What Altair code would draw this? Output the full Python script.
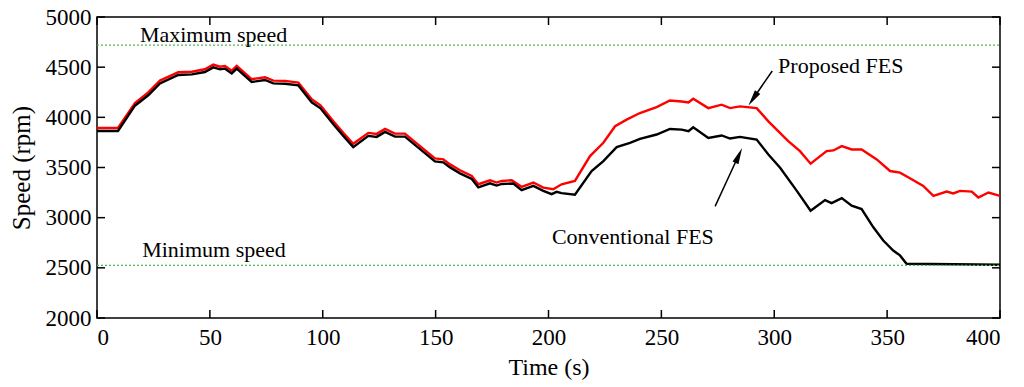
import altair as alt
import pandas as pd

# ---- data ----
prop_t = [0, 9.3, 16.8, 22.7, 27.9, 36, 42, 47.8, 51.5, 54.5, 56.7, 59.7, 61.9, 68.5, 74.4, 78.1,
          83.3, 89.2, 95.1, 99, 104.7, 109.1, 113.5, 120.2, 123.9, 127.6, 132, 136.4, 143.1, 149.7,
          153.4, 156.4, 160.8, 166, 168.9, 174.1, 177, 179.3, 183.7, 188.1, 193.3, 197.7, 202.1,
          205.8, 211.7, 218.4, 224.3, 229.5, 234.6, 240.5, 247.9, 253.8, 259, 262, 264.1, 270.8,
          276.7, 280.4, 284.8, 292.2, 297.4, 306.2, 311.4, 316.1, 323.2, 326.2, 329.9, 334.3,
          338.7, 345.4, 351.3, 355.7, 360.1, 366, 370.5, 376.4, 379.3, 382.3, 387.5, 390.4, 394.9, 400]
prop_rpm = [3894, 3894, 4142, 4248, 4366, 4449, 4455, 4479, 4525, 4505, 4512, 4465, 4512, 4380, 4400, 4366,
            4363, 4346, 4181, 4120, 3960, 3845, 3736, 3845, 3835, 3884, 3838, 3838, 3713, 3591,
            3581, 3531, 3472, 3416, 3333, 3373, 3350, 3366, 3373, 3307, 3350, 3300, 3284,
            3333, 3366, 3614, 3746, 3911, 3977, 4043, 4102, 4168, 4158, 4148, 4185, 4092,
            4126, 4092, 4109, 4092, 3960, 3762, 3663, 3538, 3663, 3670, 3713, 3680,
            3680, 3581, 3465, 3449, 3393, 3317, 3218, 3260, 3241, 3267, 3260, 3201, 3251, 3218]

conv_t = [0, 9.3, 16.8, 22.7, 27.9, 36, 42, 47.8, 51.5, 54.5, 56.7, 59.7, 61.9, 68.5, 74.4, 78.1,
          83.3, 89.2, 95.1, 99, 104.7, 109.1, 113.5, 120.2, 123.9, 127.6, 132, 136.4, 143.1, 149.7,
          153.4, 156.4, 160.8, 166, 168.9, 174.1, 177, 179.3, 184.4, 188.1, 193.3, 197.7, 201.4,
          203.6, 205.8, 211.7, 219.1, 224.3, 230.2, 236.1, 240.5, 247.9, 253.8, 259, 262, 264.1,
          270.8, 276.7, 280.4, 284.8, 292.2, 297.4, 302.6, 310, 316.1, 322.5, 325.4, 329.9, 334.3,
          338.7, 343.9, 348.3, 352.7, 355.7, 358.6, 400]
conv_rpm = [3864, 3864, 4116, 4220, 4338, 4422, 4428, 4452, 4498, 4478, 4485, 4438, 4485, 4352, 4372, 4338,
            4335, 4318, 4150, 4090, 3930, 3815, 3703, 3815, 3805, 3855, 3808, 3808, 3683, 3561,
            3551, 3501, 3442, 3386, 3303, 3343, 3320, 3336, 3340, 3274, 3317, 3267, 3234,
            3257, 3244, 3228, 3465, 3564, 3703, 3746, 3785, 3829, 3884, 3878, 3861, 3901,
            3795, 3819, 3789, 3805, 3779, 3630, 3498, 3267, 3069, 3175, 3145, 3195, 3119,
            3086, 2904, 2772, 2673, 2624, 2540, 2530]

limit_names = ["Maximum speed", "Minimum speed"]
limit_rpm = [4720, 2525]

x_ticks = [0, 50, 100, 150, 200, 250, 300, 350, 400]
y_ticks = [2000, 2500, 3000, 3500, 4000, 4500, 5000]

# annotation text positions (data space)
note_text = ["Maximum speed", "Minimum speed", "Proposed FES", "Conventional FES"]
note_t = [19, 20, 301.7, 201.5]
note_rpm = [4822, 2673, 4515, 2812]

# arrows: start -> tip (data space), head angle
arrow_t1 = [299.1, 273.8]
arrow_r1 = [4462, 3112]
arrow_t2 = [290.0, 284.6]
arrow_r2 = [4165, 3640]
head_t = [290.6, 284.3]
head_r = [4185, 3620]
head_angle = [214.5, 24.3]

FONT = "Liberation Serif"
W, H = 903, 301

df_lines = pd.concat([
    pd.DataFrame({"t": prop_t, "rpm": prop_rpm, "series": "Proposed FES", "order": 0}),
    pd.DataFrame({"t": conv_t, "rpm": conv_rpm, "series": "Conventional FES", "order": 1}),
])
df_lim = pd.DataFrame({"name": limit_names, "rpm": limit_rpm})
df_xt = pd.DataFrame({"t": x_ticks})
df_yt = pd.DataFrame({"rpm": y_ticks})
df_notes = pd.DataFrame({"text": note_text, "t": note_t, "rpm": note_rpm})
df_arrow = pd.DataFrame({"t1": arrow_t1, "r1": arrow_r1, "t2": arrow_t2, "r2": arrow_r2,
                         "ht": head_t, "hr": head_r, "ang": head_angle})

xs = alt.Scale(domain=[0, 400], nice=False, zero=False)
ys = alt.Scale(domain=[2000, 5000], nice=False, zero=False)

x_axis = alt.Axis(values=x_ticks, format="d", ticks=False, domain=False, grid=False,
                  labelFont=FONT, labelFontSize=23, labelColor="black", labelPadding=8,
                  title="Time (s)", titleFont=FONT, titleFontSize=24, titleFontWeight="normal",
                  titleColor="black", titlePadding=6)
y_axis = alt.Axis(values=y_ticks, format="d", ticks=False, domain=False, grid=False,
                  labelFont=FONT, labelFontSize=23, labelColor="black", labelPadding=6,
                  title="Speed (rpm)", titleFont=FONT, titleFontSize=25, titleFontWeight="normal",
                  titleColor="black", titlePadding=11)


def X(field):
    return alt.X(field, type="quantitative", scale=xs, axis=x_axis, title="Time (s)")


def Y(field):
    return alt.Y(field, type="quantitative", scale=ys, axis=y_axis, title="Speed (rpm)")


lines = alt.Chart(df_lines).mark_line(strokeWidth=2.4).encode(
    x=X("t"), y=Y("rpm"),
    color=alt.Color("series:N", scale=alt.Scale(domain=["Proposed FES", "Conventional FES"],
                                               range=["#ff0000", "#000000"]), legend=None),
    detail="order:O",
)

limits = alt.Chart(df_lim).mark_rule(color="#4cbb4c", strokeWidth=1.2, strokeDash=[2, 2]).encode(
    y=Y("rpm"), x=alt.value(0), x2=alt.value(W),
)

tick_left = alt.Chart(df_yt).mark_rule(color="black", strokeWidth=1.5).encode(
    y=Y("rpm"), x=alt.value(0), x2=alt.value(8))
tick_right = alt.Chart(df_yt).mark_rule(color="black", strokeWidth=1.5).encode(
    y=Y("rpm"), x=alt.value(W), x2=alt.value(W - 8))
tick_bottom = alt.Chart(df_xt).mark_rule(color="black", strokeWidth=1.5).encode(
    x=X("t"), y=alt.value(H), y2=alt.value(H - 8))
tick_top = alt.Chart(df_xt).mark_rule(color="black", strokeWidth=1.5).encode(
    x=X("t"), y=alt.value(0), y2=alt.value(8))

notes = alt.Chart(df_notes).mark_text(font=FONT, fontSize=22, align="left", baseline="middle",
                                      color="black").encode(
    x=X("t"), y=Y("rpm"), text="text:N")

arrow_shafts = alt.Chart(df_arrow).mark_rule(color="black", strokeWidth=1.5).encode(
    x=X("t1"), y=Y("r1"), x2="t2:Q", y2="r2:Q")
arrow_heads = alt.Chart(df_arrow).mark_point(
    shape="M0,-1L0.4,1L-0.4,1Z", filled=True, color="black", size=260, opacity=1).encode(
    x=X("ht"), y=Y("hr"), angle=alt.Angle("ang:Q", scale=None))

chart = alt.layer(
    lines, limits, tick_left, tick_right, tick_bottom, tick_top, notes, arrow_shafts, arrow_heads
).properties(
    width=W, height=H,
    background="white",
    autosize=alt.AutoSizeParams(type="none"),
    padding={"left": 89, "top": 9, "right": 10, "bottom": 66},
).configure(
    font=FONT
).configure_axis(
    labelFont=FONT, titleFont=FONT, ticks=False, grid=False, domain=False
).configure_view(
    stroke="black", strokeWidth=1.5
)

chart.save("out.html", embed_options={"renderer": "svg", "actions": False})
